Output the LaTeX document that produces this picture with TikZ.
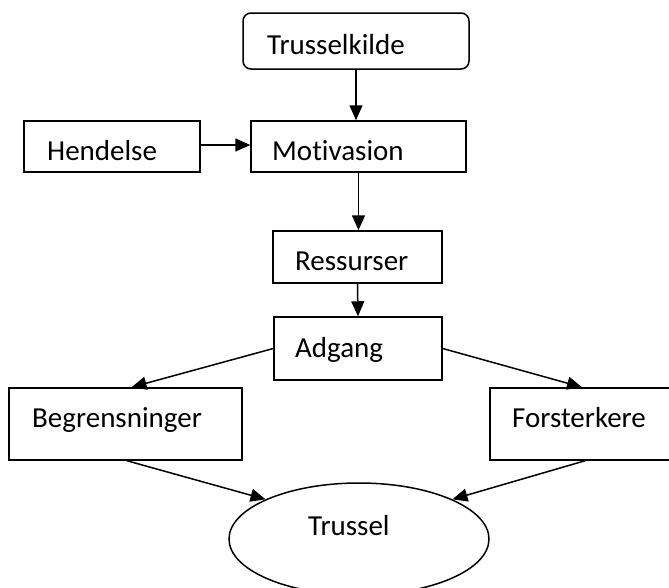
\documentclass[tikz,border=0pt]{standalone}
\usepackage{fontspec}
\setmainfont{Carlito}[Ligatures=NoCommon]
\usetikzlibrary{arrows.meta,shapes.geometric}

\tikzset{
  box/.style={draw, line width=1.5pt, inner sep=0pt, minimum width=#1},
  label text/.style={anchor=base west, inner sep=0pt, font=\fontsize{29}{34}\selectfont},
  arr/.style={line width=1.5pt, -{Triangle[length=15pt,width=13pt]}}
}

\begin{document}
\begin{tikzpicture}[x=1pt,y=-1pt]
  \useasboundingbox (0,0) rectangle (669,587);

  % boxes
  \node[box=226pt, minimum height=56pt, rounded corners=8pt] (kilde) at (356,41) {};
  \node[box=176pt, minimum height=51pt] (hend)  at (112,146.5) {};
  \node[box=215pt, minimum height=51pt] (motiv) at (358.5,146.5) {};
  \node[box=169pt, minimum height=52pt] (ress)  at (357.5,257) {};
  \node[box=168pt, minimum height=63pt] (adg)   at (358,348.5) {};
  \node[box=233pt, minimum height=72pt] (begr)  at (125.5,424) {};
  \node[box=184pt, minimum height=72pt] (forst) at (582,424) {};
  \node[draw, ellipse, line width=1.5pt, inner sep=0pt,
        minimum width=260pt, minimum height=112pt] (truss) at (359,539) {};

  % texts
  \node[label text] (kilde-t) at (267,54)  {Trusselkilde};
  \node[label text] (hend-t)  at (47,160)  {Hendelse};
  \node[label text] (motiv-t) at (272,160) {Motivasion};
  \node[label text] (ress-t)  at (295,270) {Ressurser};
  \node[label text] (adg-t)   at (295,357) {Adgang};
  \node[label text] (begr-t)  at (32,427)  {Begrensninger};
  \node[label text] (forst-t) at (512,427) {Forsterkere};
  \node[label text] (truss-t) at (308,535) {Trussel};

  % connectors
  \draw[arr] (kilde.south) -- (kilde.south |- motiv.north);
  \draw[arr] (hend.east |- 0,145) -- (motiv.west |- 0,145);
  \draw[arr] (motiv.south) -- (motiv.south |- ress.north);
  \draw[arr] (ress.south) -- (adg.north);
  \draw[arr] (adg.west) -- ([xshift=6pt]begr.north);
  \draw[arr] (adg.east) -- (forst.north);
  \draw[arr] ([xshift=1.5pt]begr.south) -- (truss.157);
  \draw[arr] ([xshift=3pt]forst.south) -- (truss.23);
\end{tikzpicture}
\end{document}
